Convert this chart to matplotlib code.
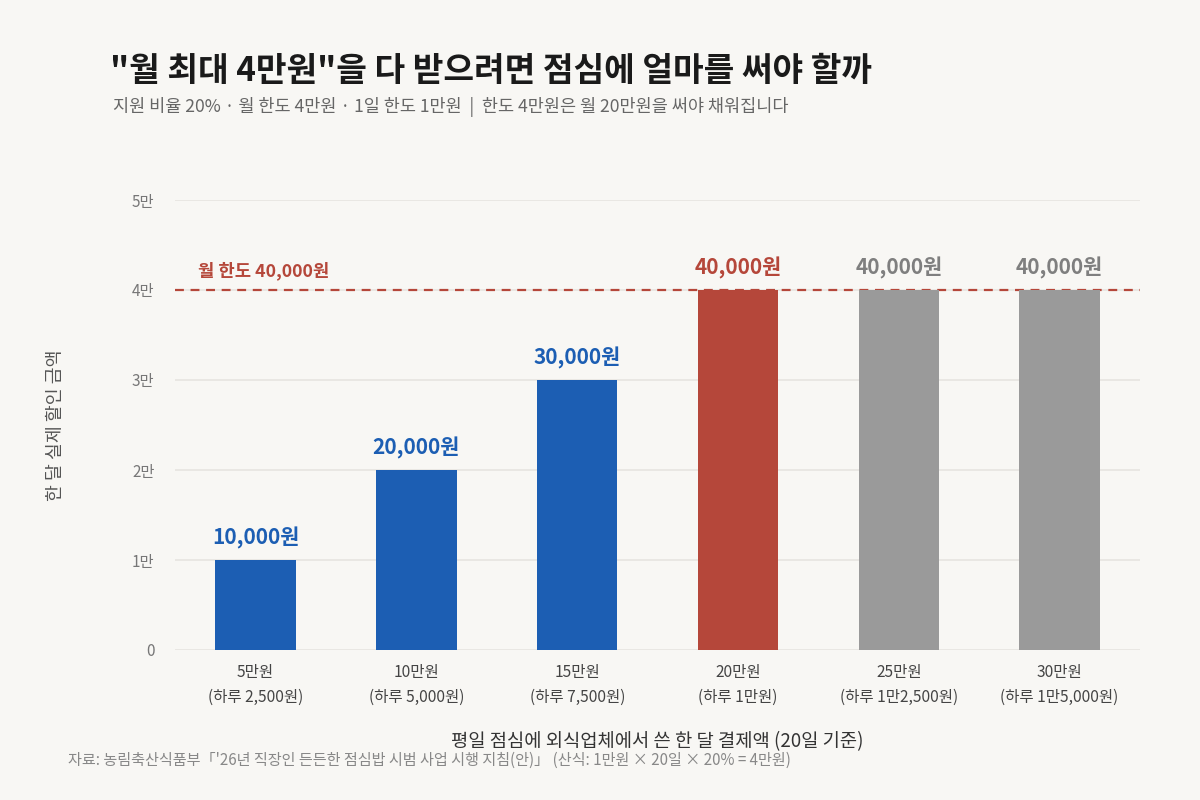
import matplotlib
matplotlib.use("Agg")
import matplotlib.pyplot as plt

plt.rcParams['font.family'] = ['Noto Sans CJK KR', 'DejaVu Sans']

# data
spend_labels = ["5만원\n(하루 2,500원)", "10만원\n(하루 5,000원)", "15만원\n(하루 7,500원)",
                "20만원\n(하루 1만원)", "25만원\n(하루 1만2,500원)", "30만원\n(하루 1만5,000원)"]
discount = [10000, 20000, 30000, 40000, 40000, 40000]
bar_colors = ["#1c5eb3", "#1c5eb3", "#1c5eb3", "#b5473a", "#9a9a9a", "#9a9a9a"]
label_colors = ["#1c5eb3", "#1c5eb3", "#1c5eb3", "#b5473a", "#7f7f7f", "#7f7f7f"]
cap = 40000
y_ticks = [0, 10000, 20000, 30000, 40000, 50000]
y_ticklabels = ["0", "1만", "2만", "3만", "4만", "5만"]

bg = "#f8f7f4"
fig = plt.figure(figsize=(12, 8), dpi=100, facecolor=bg)
ax = fig.add_axes([0.146, 0.1875, 0.804, 0.5625], facecolor=bg)

x = range(len(discount))
ax.bar(x, discount, width=0.5, color=bar_colors, zorder=3)
for i, v in enumerate(discount):
    ax.text(i, v + 1200, f"{v:,}원", ha="center", va="bottom", fontsize=15,
            fontweight="bold", color=label_colors[i], zorder=4)

ax.axhline(cap, color="#b5473a", linestyle=(0, (4, 3)), linewidth=1.6, zorder=2)
ax.text(-0.36, cap + 1100, "월 한도 40,000원", ha="left", va="bottom", fontsize=12.8,
        fontweight="bold", color="#b5473a")

ax.set_xlim(-0.5, 5.5)
ax.set_ylim(0, 50000)
ax.set_yticks(y_ticks)
ax.set_yticklabels(y_ticklabels)
ax.set_xticks(list(x))
ax.set_xticklabels(spend_labels, fontsize=11.2, color="#444444", linespacing=1.6)
ax.tick_params(axis="y", length=0, labelsize=11, labelcolor="#777777", pad=15)
ax.tick_params(axis="x", length=0, pad=10)
ax.grid(axis="y", color="#e6e4e0", linewidth=1.2, zorder=0)
for s in ax.spines.values():
    s.set_visible(False)

ax.set_ylabel("한 달 실제 할인 금액", fontsize=13.2, color="#555555", labelpad=48)
ax.set_xlabel("평일 점심에 외식업체에서 쓴 한 달 결제액 (20일 기준)", fontsize=13.5,
              color="#333333", labelpad=18)

fig.text(0.092, 0.91, "\"월 최대 4만원\"을 다 받으려면 점심에 얼마를 써야 할까",
         fontsize=24, fontweight="bold", color="#1a1a1a", ha="left", va="center")
fig.text(0.094, 0.866, "지원 비율 20% · 월 한도 4만원 · 1일 한도 1만원  |  한도 4만원은 월 20만원을 써야 채워집니다",
         fontsize=12.6, color="#666666", ha="left", va="center")
fig.text(0.057, 0.049, "자료: 농림축산식품부「'26년 직장인 든든한 점심밥 시범 사업 시행 지침(안)」 (산식: 1만원 × 20일 × 20% = 4만원)",
         fontsize=10.9, color="#888888", ha="left", va="center")

fig.savefig("out.png", dpi=100, facecolor=bg)
